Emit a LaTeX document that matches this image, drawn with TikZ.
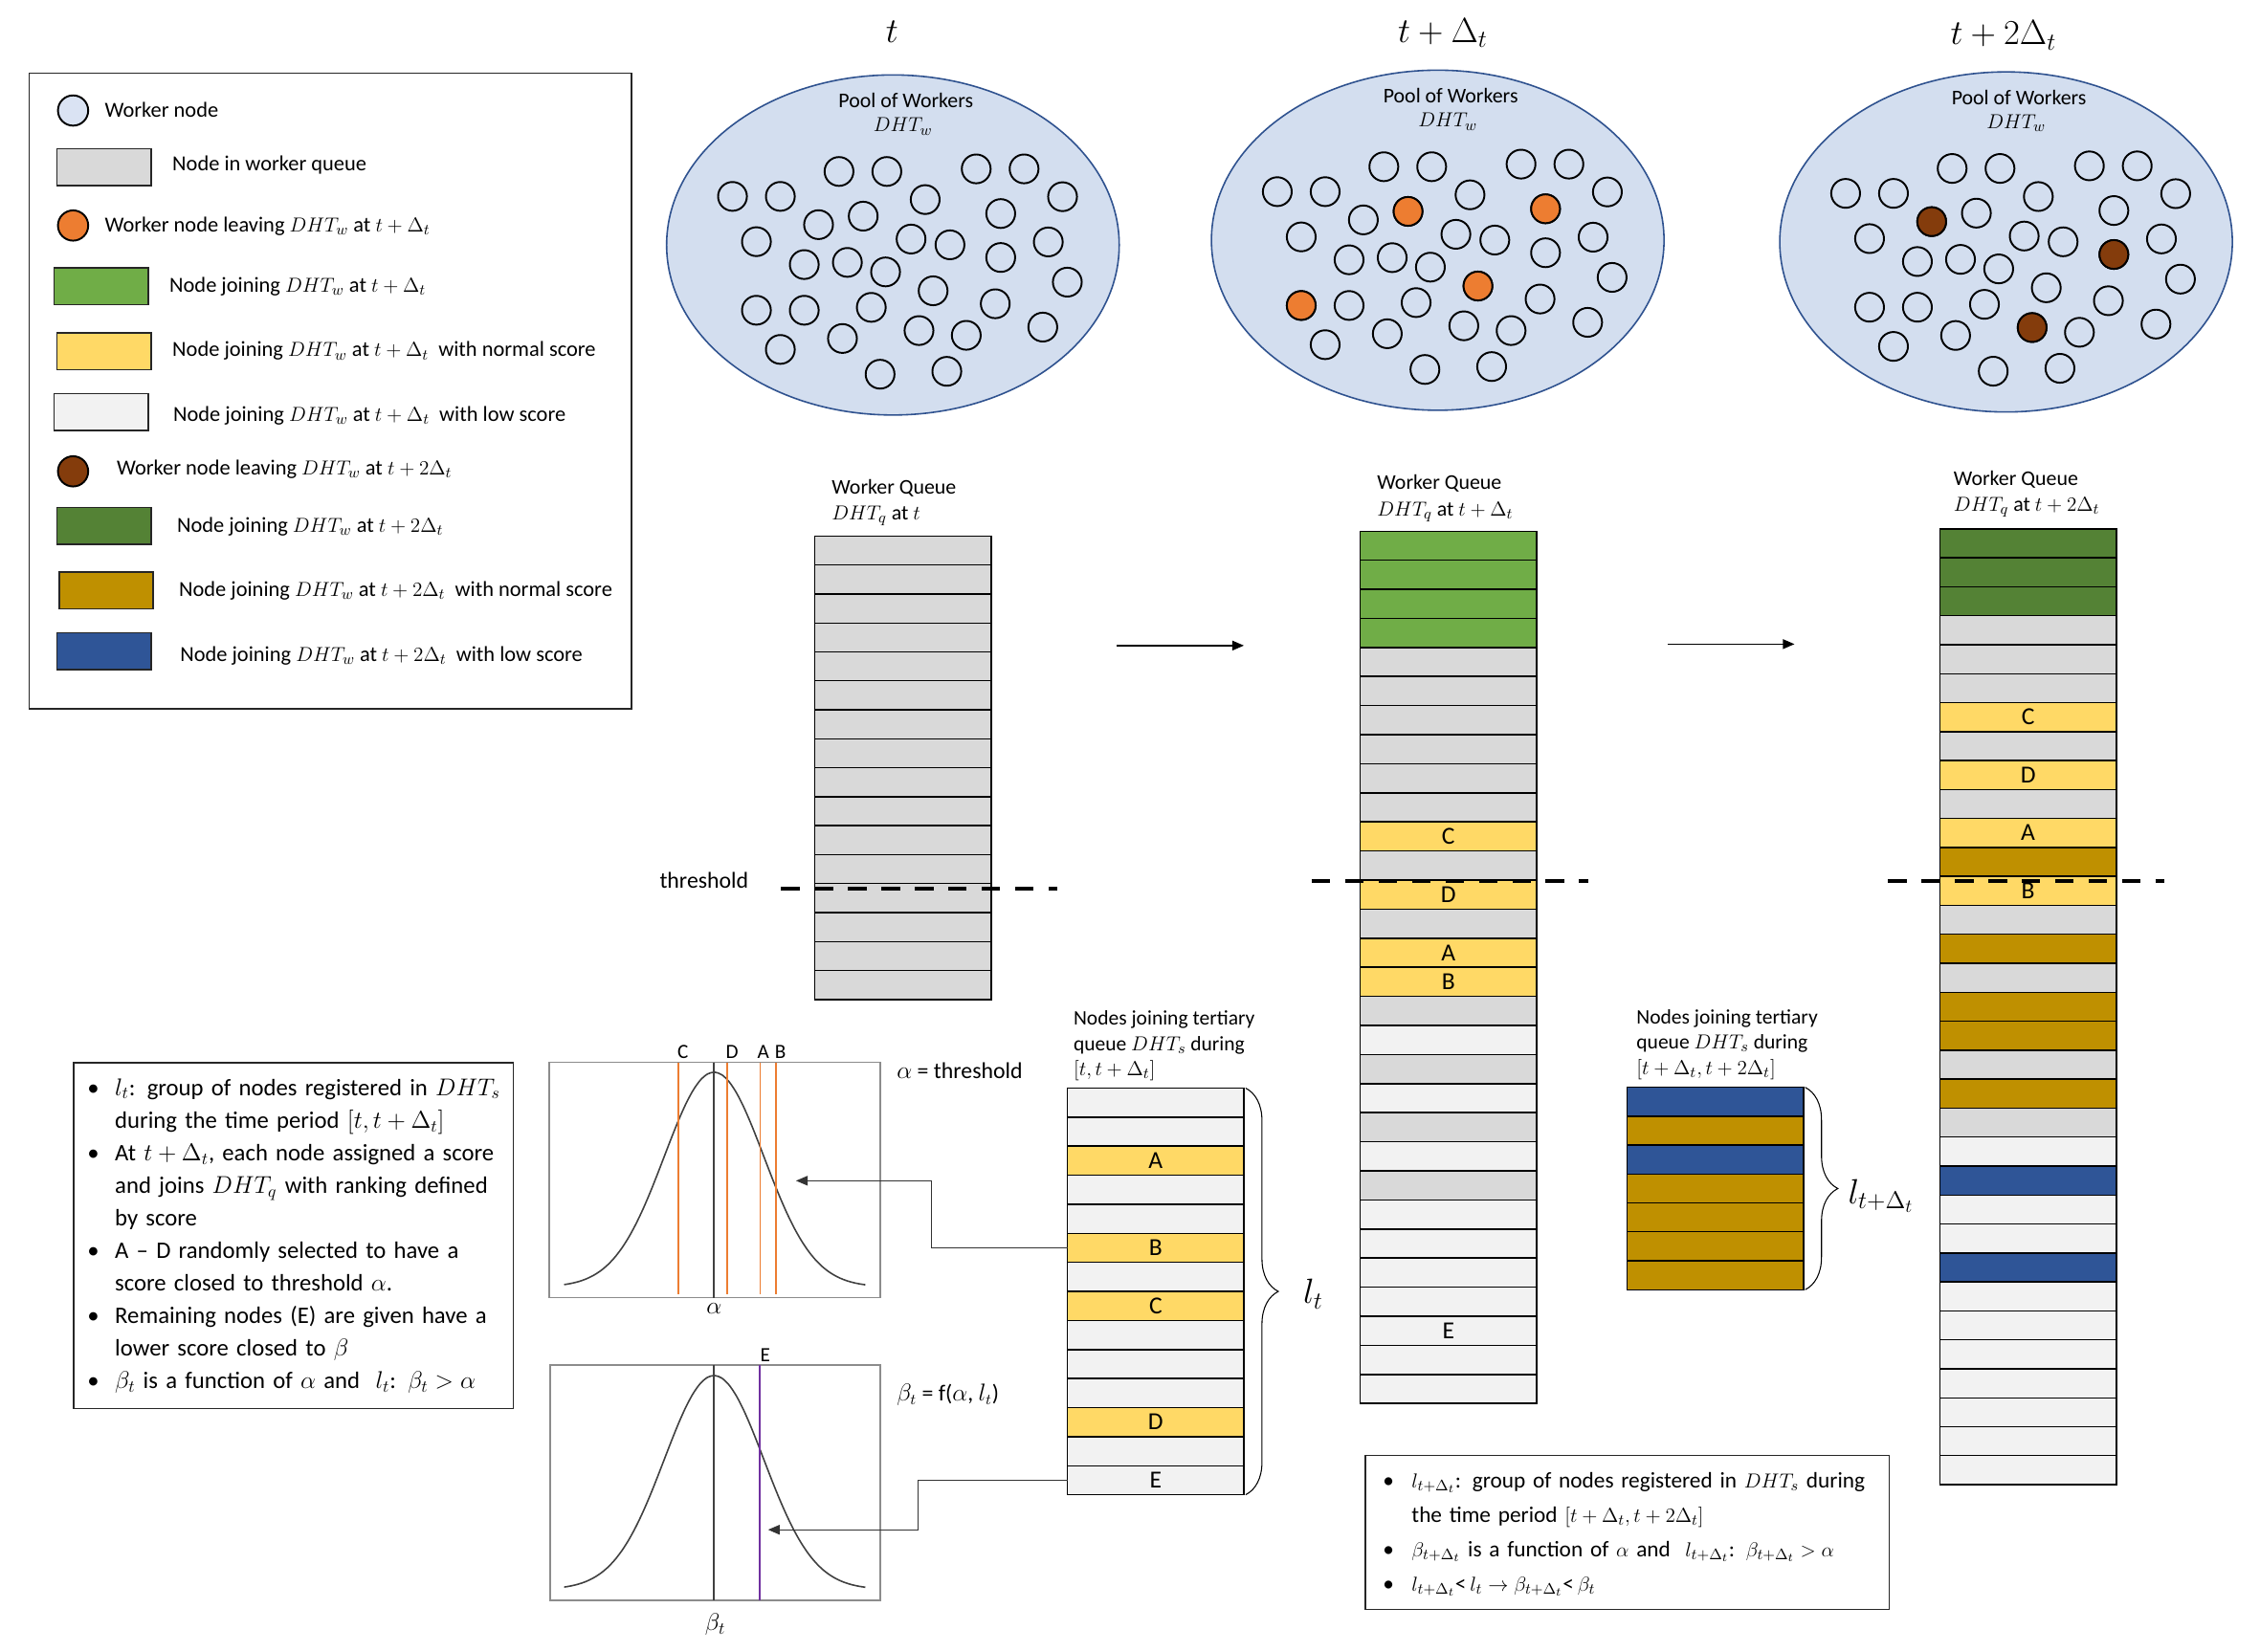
\documentclass[tikz,border=0pt]{standalone}
\usepackage{amsmath}
\usepackage{fontspec}
\setmainfont{Carlito}
\usepackage{xcolor}
\definecolor{poolbg}{HTML}{D3DEEF}
\definecolor{poolln}{HTML}{2F528F}
\definecolor{wkbg}{HTML}{DAE3F3}
\definecolor{wleavea}{HTML}{ED7D31}
\definecolor{wleaveb}{HTML}{843C0C}
\definecolor{qgray}{HTML}{D9D9D9}
\definecolor{qgreen}{HTML}{70AD47}
\definecolor{qyel}{HTML}{FFD966}
\definecolor{qlight}{HTML}{F2F2F2}
\definecolor{qdkgreen}{HTML}{548235}
\definecolor{qgold}{HTML}{BF9000}
\definecolor{qblue}{HTML}{2F5597}
\definecolor{epurple}{HTML}{7030A0}
\usepackage{tikz}
\usetikzlibrary{arrows.meta,positioning,shapes.geometric,decorations.pathreplacing}

\begin{document}
\begin{tikzpicture}[x=0.03cm,y=-0.03cm,
  ttl/.style={anchor=base,inner sep=0pt,font=\fontsize{20}{24}\selectfont},
  pool/.style={ellipse,draw=poolln,fill=poolbg,line width=0.9pt,minimum width=9.42cm,minimum height=7.08cm,inner sep=0pt},
  pooltxt/.style={anchor=base,inner sep=0pt,font=\fontsize{12.4}{15}\selectfont},
  wnode/.style={circle,draw=black,line width=1.1pt,minimum size=0.6cm,inner sep=0pt},
  lgframe/.style={draw=black!85,line width=0.9pt,minimum width=12.54cm,minimum height=13.23cm,inner sep=0pt},
  lgbox/.style={draw=black!85,line width=0.9pt,minimum width=1.96cm,minimum height=0.765cm,inner sep=0pt},
  lgtxt/.style={anchor=base west,inner sep=0pt,font=\fontsize{12.7}{15}\selectfont},
  qlbl/.style={anchor=base west,align=left,inner sep=0pt,font=\fontsize{12.4}{15.5}\selectfont},
  qrow/.style={draw=black,line width=0.8pt,minimum width=3.675cm,minimum height=0.603cm,inner sep=0pt,outer sep=0pt,font=\fontsize{14.5}{16}\selectfont},
  thresh/.style={line width=2.3pt,dash pattern=on 0.384cm off 0.312cm},
  mvarr/.style={line width=0.8pt,-{Triangle[length=2.4mm,width=2mm]}},
  conn/.style={draw=black!80,line width=0.6pt,-{Triangle[length=2.4mm,width=2mm]}},
  brc/.style={decorate,decoration={brace,amplitude=0.68cm,raise=1pt},line width=0.6pt},
  lvar/.style={anchor=west,inner sep=0pt,font=\fontsize{22}{26}\selectfont},
  gbox/.style={draw=black!45,line width=0.9pt,inner sep=0pt},
  gcurve/.style={draw=black!75,line width=0.9pt},
  gmark/.style={draw=wleavea,line width=1.1pt},
  glbl/.style={anchor=base,inner sep=0pt,font=\fontsize{12}{14}\selectfont},
  gtxt/.style={anchor=base west,inner sep=0pt,font=\fontsize{13.5}{16}\selectfont},
  notebox/.style={draw=black!85,line width=0.9pt,align=left,anchor=north west}]
\useasboundingbox (0,0) rectangle (1568,1146);

% time steps
\node[ttl] (ta-ttl) at (619,29.5) {$t$};
\node[ttl] (tb-ttl) at (1001,29.5) {$t+\Delta_t$};
\node[ttl] (tc-ttl) at (1390,31) {$t+2\Delta_t$};

% legend
\node[lgframe] (legend) at (229.25,271.3) {};
\node[wnode,fill=wkbg,minimum size=0.63cm] (lg1) at (50.7,76.7) {};
\node[lgtxt] (lg1t) at (72.5,81.2) {Worker node};
\node[lgbox,fill=qgray] (lg2) at (72.1,115.9) {};
\node[lgtxt] (lg2t) at (119.4,118.6) {Node in worker queue};
\node[wnode,fill=wleavea,minimum size=0.63cm] (lg3) at (50.7,156.5) {};
\node[lgtxt] (lg3t) at (72.5,160.8) {Worker node leaving $DHT_w$ at $t+\Delta_t$};
\node[lgbox,fill=qgreen] (lg4) at (70.2,198.8) {};
\node[lgtxt] (lg4t) at (117.4,202.7) {Node joining $DHT_w$ at $t+\Delta_t$};
\node[lgbox,fill=qyel] (lg5) at (72.1,243.7) {};
\node[lgtxt] (lg5t) at (119.4,247.6) {Node joining $DHT_w$ at $t+\Delta_t$\ \ with normal score};
\node[lgbox,fill=qlight] (lg6) at (70.2,286) {};
\node[lgtxt] (lg6t) at (120,292.2) {Node joining $DHT_w$ at $t+\Delta_t$\ \ with low score};
\node[wnode,fill=wleaveb,minimum size=0.63cm] (lg7) at (50.7,327.1) {};
\node[lgtxt] (lg7t) at (80.8,329.5) {Worker node leaving $DHT_w$ at $t+2\Delta_t$};
\node[lgbox,fill=qdkgreen] (lg8) at (72.1,364.9) {};
\node[lgtxt] (lg8t) at (122.6,369.4) {Node joining $DHT_w$ at $t+2\Delta_t$};
\node[lgbox,fill=qgold] (lg9) at (73.7,409.8) {};
\node[lgtxt] (lg9t) at (124,413.7) {Node joining $DHT_w$ at $t+2\Delta_t$\ \ with normal score};
\node[lgbox,fill=qblue] (lg10) at (72.1,451.8) {};
\node[lgtxt] (lg10t) at (124.8,459.2) {Node joining $DHT_w$ at $t+2\Delta_t$\ \ with low score};

% pools of workers
\foreach \p/\cx/\cy in {pa/619.5/170,pb/997.5/166.7,pc/1391.8/167.9}{
  \node[pool] (\p) at (\cx,\cy) {};
  \node[pooltxt] (\p-t1) at ({\cx+9},{\cy-95.5}) {Pool of Workers};
  \node[pooltxt] (\p-t2) at ({\cx+7},{\cy-78.5}) {$DHT_w$};
  \foreach \dx/\dy [count=\k] in {-37.4/-51.0,-4.2/-51.0,57.8/-52.8,91.0/-52.8,-111.3/-33.7,-78.1/-33.7,22.4/-31.5,117.7/-33.5,-51.6/-14.1,-20.6/-20.0,74.8/-21.8,-94.7/-2.3,12.6/-4.1,39.6/-0.1,107.8/-2.1,-61.5/13.6,-31.6/12.1,-5.1/18.7,74.8/8.7,121.0/25.8,27.9/31.8,-94.7/45.3,-61.5/45.3,-15.0/43.3,71.0/40.8,-35.0/64.9,18.1/59.4,50.9/62.7,104.0/57.0,-78.1/72.5,-8.9/89.7,37.4/87.7}
    \node[wnode] (\p-\k) at ({\cx+(\dx)},{\cy+(\dy)}) {};
}
\foreach \k in {10,11,21,22} \node[wnode,fill=wleavea] (pb-\k-x) at (pb-\k) {};
\foreach \k in {9,19,27} \node[wnode,fill=wleaveb] (pc-\k-x) at (pc-\k) {};

% worker queues
\node[qlbl] (qa-lbl) at (576.9,361) {Worker Queue\\$DHT_q$ at $t$};
\node[qlbl] (qb-lbl) at (955.3,358) {Worker Queue\\$DHT_q$ at $t+\Delta_t$};
\node[qlbl] (qc-lbl) at (1355.3,355) {Worker Queue\\$DHT_q$ at $t+2\Delta_t$};

\foreach \i in {1,...,16}
  \node[qrow,fill=qgray] (qa-\i) at (626.5,{372+(\i-0.5)*20.1}) {};
\foreach \c/\t [count=\i] in {qgreen/{},qgreen/{},qgreen/{},qgreen/{},qgray/{},qgray/{},qgray/{},qgray/{},qgray/{},qgray/{},qyel/C,qgray/{},qyel/D,qgray/{},qyel/A,qyel/B,qgray/{},qlight/{},qgray/{},qlight/{},qgray/{},qlight/{},qgray/{},qlight/{},qlight/{},qlight/{},qlight/{},qlight/E,qlight/{},qlight/{}}
  \node[qrow,fill=\c] (qb-\i) at (1004.9,{368.6+(\i-0.5)*20.18}) {\t};
\foreach \c/\t [count=\i] in {qdkgreen/{},qdkgreen/{},qdkgreen/{},qgray/{},qgray/{},qgray/{},qyel/C,qgray/{},qyel/D,qgray/{},qyel/A,qgold/{},qyel/B,qgray/{},qgold/{},qgray/{},qgold/{},qgold/{},qgray/{},qgold/{},qgray/{},qlight/{},qblue/{},qlight/{},qlight/{},qblue/{},qlight/{},qlight/{},qlight/{},qlight/{},qlight/{},qlight/{},qlight/{}}
  \node[qrow,fill=\c] (qc-\i) at (1407.1,{367+(\i-0.5)*20.1}) {\t};

% threshold
\node[anchor=base,inner sep=0pt,font=\fontsize{13.5}{16}\selectfont] (thr) at (488.5,616.6) {threshold};
\coordinate (tha0) at (542,616.6);
\coordinate (tha1) at (733.6,616.6);
\coordinate (thb0) at (910,611.6);
\coordinate (thb1) at (1102,611.6);
\coordinate (thc0) at (1310,611.4);
\coordinate (thc1) at (1501.4,611.4);
\draw[thresh] (tha0) -- (tha1);
\draw[thresh] (thb0) -- (thb1);
\draw[thresh] (thc0) -- (thc1);

% moves between steps
\coordinate (mv1s) at (775,448);
\coordinate (mv1e) at (863,448);
\coordinate (mv2s) at (1157,447);
\coordinate (mv2e) at (1245,447);
\draw[mvarr] (mv1s) -- (mv1e);
\draw[mvarr] (mv2s) -- (mv2e);

% tertiary queues
\node[qlbl,font=\fontsize{12.2}{14.9}\selectfont] (sa-lbl) at (744.6,746.5) {Nodes joining tertiary\\queue $DHT_s$ during\\$[t,t+\Delta_t]$};
\foreach \c/\t [count=\i] in {qlight/{},qlight/{},qyel/A,qlight/{},qlight/{},qyel/B,qlight/{},qyel/C,qlight/{},qlight/{},qlight/{},qyel/D,qlight/{},qlight/E}
  \node[qrow,fill=\c] (sa-\i) at (801.8,{755.1+(\i-0.5)*20.16}) {\t};
\draw[brc] (sa-1.north east) -- (sa-14.south east);
\node[lvar] (lt) at (904,898) {$l_t$};

\node[qlbl,font=\fontsize{12.2}{14.9}\selectfont] (sb-lbl) at (1135.2,745.5) {Nodes joining tertiary\\queue $DHT_s$ during\\$[t+\Delta_t,t+2\Delta_t]$};
\foreach \c [count=\i] in {qblue,qgold,qblue,qgold,qgold,qgold,qgold}
  \node[qrow,fill=\c] (sb-\i) at (1190,{754.6+(\i-0.5)*20.06}) {};
\draw[brc] (sb-1.north east) -- (sb-7.south east);
\node[lvar] (ltd) at (1282,830) {$l_{t+\Delta_t}$};

% score distributions
\node[gbox,minimum width=6.9cm,minimum height=4.9cm] (ga) at (495.9,818.95) {};
\draw[gcurve] plot[smooth,domain=-104:105,samples=43] ({495.4+\x},{893.1-149*exp(-((\x)*(\x))/2394)});
\draw[gcurve] (495.4,737.3) -- (495.4,900.6);
\foreach \mx in {470.7,504.8,527.4,538.6}
  \draw[gmark] (\mx,737.3) -- (\mx,898);
\node[glbl] (ga-c) at (473.9,734.7) {C};
\node[glbl] (ga-d) at (508,734.7) {D};
\node[glbl] (ga-a) at (529.5,734.7) {A};
\node[glbl] (ga-b) at (541.4,734.7) {B};
\node[inner sep=0pt,font=\fontsize{14}{16}\selectfont] (ga-x) at (495.4,908) {$\alpha$};
\node[gtxt] (ga-def) at (622,748.5) {$\alpha$ = threshold};

\node[gbox,minimum width=6.88cm,minimum height=4.9cm] (gb) at (496.25,1028.9) {};
\draw[gcurve] plot[smooth,domain=-104:105,samples=43] ({495.4+\x},{1103-148.4*exp(-((\x)*(\x))/2394)});
\draw[gcurve] (495.4,947.2) -- (495.4,1110.6);
\draw[epurple,line width=1.1pt] (527.2,947.2) -- (527.2,1110.6);
\node[glbl] (gb-e) at (531,944.7) {E};
\node[inner sep=0pt,font=\fontsize{14}{16}\selectfont] (gb-x) at (496.3,1127.5) {$\beta_t$};
\node[gtxt] (gb-def) at (622,972) {$\beta_t$ = f($\alpha$, $l_t$)};

\coordinate (ga-in) at (552.3,819.4);
\coordinate (gb-in) at (532.9,1061.6);
\draw[conn] (sa-6.west) -- ++(-94.2,0) |- (ga-in);
\draw[conn] (sa-14.west) -- ++(-103.3,0) |- (gb-in);

% notes
\node[notebox,minimum height=7.2cm,text width=8.58cm,inner xsep=0.29cm,font=\fontsize{14}{19.3}\selectfont] (notes-a) at (50.4,736.9) {%
\noindent\begin{tabular}{@{}p{0.576cm}@{}l@{}}
\textbullet & $l_t$: group of nodes registered in $DHT_s$\\
 & during the time period $[t,t+\Delta_t]$\\
\textbullet & At $t+\Delta_t$, each node assigned a score\\
 & and joins $DHT_q$ with ranking defined\\
 & by score\\
\textbullet & A -- D randomly selected to have a\\
 & score closed to threshold $\alpha$.\\
\textbullet & Remaining nodes (E) are given have a\\
 & lower score closed to $\beta$\\
\textbullet & $\beta_t$ is a function of $\alpha$ and\ \ $l_t$: $\beta_t>\alpha$
\end{tabular}};

\node[notebox,minimum height=3.21cm,text width=10.31cm,inner xsep=0.3cm,font=\fontsize{13.2}{20.4}\selectfont] (notes-b) at (946.6,1009.5) {%
\noindent\begin{tabular}{@{\hspace{0.07cm}}p{0.6cm}@{}l@{}}
\textbullet & $l_{t+\Delta_t}$: group of nodes registered in $DHT_s$ during\\
 & the time period $[t+\Delta_t,t+2\Delta_t]$\\
\textbullet & $\beta_{t+\Delta_t}$ is a function of $\alpha$ and\ \ $l_{t+\Delta_t}$: $\beta_{t+\Delta_t}>\alpha$\\
\textbullet & $l_{t+\Delta_t}${<}\,$l_t\rightarrow\beta_{t+\Delta_t}${<}\,$\beta_t$
\end{tabular}};
\end{tikzpicture}
\end{document}
